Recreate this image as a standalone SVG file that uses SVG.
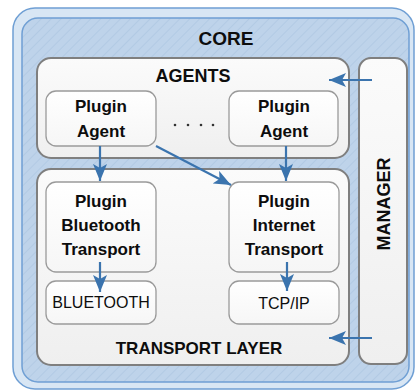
<svg xmlns="http://www.w3.org/2000/svg" width="417" height="392" viewBox="0 0 417 392">
<style>
.cont{fill:url(#gcont);stroke:#7f7f7f;stroke-width:2}
.box{fill:url(#gbox);stroke:#9a9a9a;stroke-width:1.3}
.t{font-family:"Liberation Sans",Arial,sans-serif;fill:#0d0d0d;text-anchor:middle}
.b{font-weight:bold}
.arr{stroke:#3b74ae;stroke-width:2.2;fill:none;marker-end:url(#ah)}
</style>
<defs>
<pattern id="hatch" patternUnits="userSpaceOnUse" width="7" height="7" patternTransform="rotate(45)">
<rect width="7" height="7" fill="#bed3ea"/>
<line x1="0" y1="0" x2="0" y2="7" stroke="#abc4e0" stroke-width="1.2"/>
</pattern>
<linearGradient id="gcont" x1="0" y1="0" x2="0" y2="1">
<stop offset="0" stop-color="#fbfbfb"/><stop offset="1" stop-color="#efefef"/>
</linearGradient>
<linearGradient id="gbox" x1="0" y1="0" x2="0" y2="1">
<stop offset="0" stop-color="#ffffff"/><stop offset="1" stop-color="#f6f6f6"/>
</linearGradient>
<marker id="ah" markerUnits="userSpaceOnUse" markerWidth="18" markerHeight="14" refX="17" refY="7" orient="auto">
<path d="M0,0 L17,7 L0,14 L4,7 z" fill="#3b74ae"/>
</marker>
</defs>
<g id="core">
<rect x="13" y="8" width="401" height="381" rx="22" fill="#d8e6f4" stroke="#6f9fd4" stroke-width="1.5"/>
<rect x="22" y="18" width="387" height="364" rx="16" fill="url(#hatch)" stroke="#6f9fd4" stroke-width="1.5"/>
<text class="t b" x="226" y="45" font-size="19">CORE</text>
</g>
<g id="agents">
<rect class="cont" x="37" y="58" width="312" height="100" rx="14"/>
<text class="t b" x="193" y="82" font-size="18">AGENTS</text>
</g>
<g id="transport-layer">
<rect class="cont" x="37" y="169" width="312" height="196" rx="14"/>
<text class="t b" x="199" y="354" font-size="17">TRANSPORT LAYER</text>
</g>
<g id="manager">
<rect class="cont" x="359" y="58" width="48" height="306" rx="12"/>
<text class="t b" x="0" y="0" font-size="18" transform="translate(390,204) rotate(-90)">MANAGER</text>
</g>
<g id="plugin-agent-1">
<rect class="box" x="46" y="91" width="110" height="55" rx="10"/>
<text class="t b" x="101" y="112" font-size="17">Plugin</text>
<text class="t b" x="101" y="137" font-size="17">Agent</text>
</g>
<g id="dots" fill="#333">
<circle cx="175" cy="125" r="1.3"/><circle cx="188" cy="125" r="1.3"/><circle cx="201" cy="125" r="1.3"/><circle cx="213" cy="125" r="1.3"/>
</g>
<g id="plugin-agent-2">
<rect class="box" x="229" y="91" width="109" height="55" rx="10"/>
<text class="t b" x="284" y="112" font-size="17">Plugin</text>
<text class="t b" x="284" y="137" font-size="17">Agent</text>
</g>
<g id="plugin-bluetooth-transport">
<rect class="box" x="46" y="182" width="110" height="90" rx="10"/>
<text class="t b" x="101" y="207" font-size="17">Plugin</text>
<text class="t b" x="101" y="231" font-size="17">Bluetooth</text>
<text class="t b" x="101" y="255" font-size="17">Transport</text>
</g>
<g id="plugin-internet-transport">
<rect class="box" x="229" y="182" width="110" height="90" rx="10"/>
<text class="t b" x="284" y="207" font-size="17">Plugin</text>
<text class="t b" x="284" y="231" font-size="17">Internet</text>
<text class="t b" x="284" y="255" font-size="17">Transport</text>
</g>
<g id="bluetooth">
<rect class="box" x="46" y="281" width="110" height="43" rx="10"/>
<text class="t" x="101" y="308" font-size="16">BLUETOOTH</text>
</g>
<g id="tcpip">
<rect class="box" x="229" y="281" width="110" height="43" rx="10"/>
<text class="t" x="284" y="309" font-size="16">TCP/IP</text>
</g>
<g id="connectors">
<line class="arr" x1="100" y1="146" x2="100" y2="181"/>
<line class="arr" x1="286" y1="146" x2="286" y2="181"/>
<line class="arr" x1="156" y1="146" x2="231" y2="185"/>
<line class="arr" x1="372" y1="80" x2="329" y2="80"/>
<line class="arr" x1="372" y1="338" x2="329" y2="338"/>
<line class="arr" x1="100" y1="262" x2="100" y2="292"/>
<line class="arr" x1="287" y1="262" x2="287" y2="291"/>
</g>
</svg>
